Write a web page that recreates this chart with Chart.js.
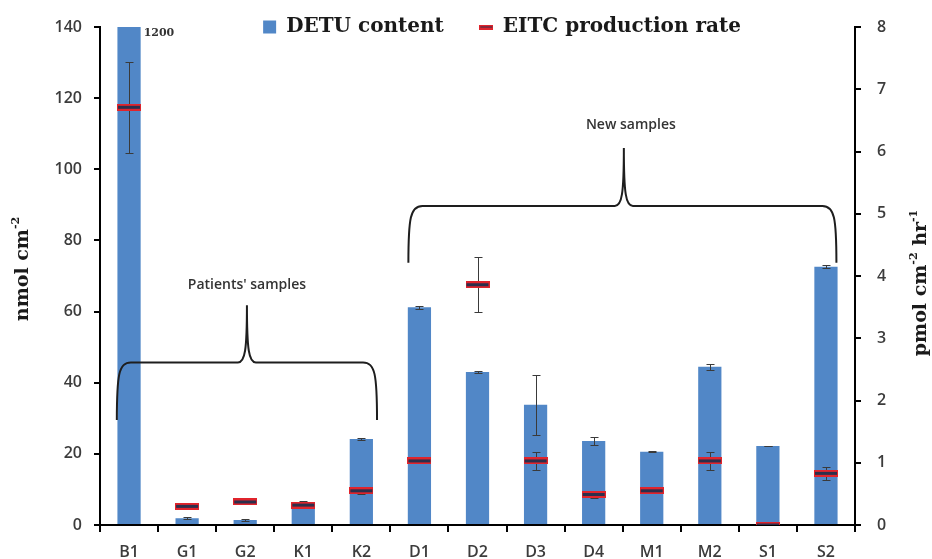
<!DOCTYPE html>
<html lang="en">
<head>
<meta charset="UTF-8" />
<title>DETU content and EITC production rate</title>
<style>
  html, body { margin: 0; padding: 0; background: #ffffff; }
  #wrap { width: 932px; height: 559px; }
</style>
</head>
<body>
<div id="wrap"><canvas id="chart" width="932" height="559"></canvas></div>

<script src="https://cdn.jsdelivr.net/npm/chart.js"></script>
<script>
  // samples along the x axis
  const samples = ['B1', 'G1', 'G2', 'K1', 'K2', 'D1', 'D2', 'D3', 'D4', 'M1', 'M2', 'S1', 'S2'];

  // DETU content, nmol cm-2 (B1 goes off the scale, printed as 1200)
  const detu    = [1200, 1.9, 1.4, 6.4, 24.2, 61.2, 43.0, 33.8, 23.6, 20.6, 44.5, 22.2, 72.6];
  const detuErr = [0, 0.3, 0.3, 0.3, 0.2, 0.5, 0.3, 8.4, 1.2, 0.2, 0.8, 0.1, 0.4];

  // EITC production rate, pmol cm-2 hr-1
  const eitc    = [6.71, 0.30, 0.37, 0.32, 0.55, 1.03, 3.86, 1.03, 0.49, 0.55, 1.03, 0.0, 0.83];
  const eitcErr = [0.73, 0.05, 0.02, 0.03, 0.06, 0.02, 0.44, 0.14, 0.05, 0.03, 0.15, 0.0, 0.10];

  // axis ticks
  const leftTicks  = [0, 20, 40, 60, 80, 100, 120, 140];
  const rightTicks = [0, 1, 2, 3, 4, 5, 6, 7, 8];

  const blue = '#5187c7';
  const ink = '#3c3c3c';
  const tickFont = { family: "'Open Sans', sans-serif", size: 16, weight: '600' };
  const legendPad = 36;

  // the red/dark dash used for the EITC markers
  function makeDash(w, h) {
    const c = document.createElement('canvas');
    c.width = w; c.height = h;
    const g = c.getContext('2d');
    g.fillStyle = '#e0242c';
    g.fillRect(0, 0, w, h);
    g.fillStyle = '#2c2f4c';
    g.fillRect(1, 2, w - 2, h - 4);
    return c;
  }
  const dash = makeDash(24, 7);
  const dashSmall = makeDash(14, 5);

  // text with raised parts, e.g. cm-2
  const serifBold = "bold 19px 'DejaVu Serif', serif";
  const serifSup = "bold 11px 'DejaVu Serif', serif";
  function drawRotatedTitle(ctx, parts, cx, cy) {
    ctx.save();
    ctx.translate(cx, cy);
    ctx.rotate(-Math.PI / 2);
    let total = 0;
    parts.forEach(p => { ctx.font = p[1] ? serifSup : serifBold; total += ctx.measureText(p[0]).width; });
    let x = -total / 2;
    ctx.fillStyle = '#1a1a1a';
    ctx.textBaseline = 'middle';
    ctx.textAlign = 'left';
    parts.forEach(p => {
      ctx.font = p[1] ? serifSup : serifBold;
      ctx.fillText(p[0], x, p[1] ? -7 : 0);
      x += ctx.measureText(p[0]).width;
    });
    ctx.restore();
  }

  // curly braces over the two sample groups (x in category index, y in nmol cm-2)
  const braces = [
    { label: "Patients' samples", x0: -0.21, x1: 4.27, xp: 2.03, yEnd: 29.5, yMid: 45.7, yPeak: 61.8, ty: 67.5, tx: 2.03 },
    { label: 'New samples', x0: 4.81, x1: 12.18, xp: 8.52, yEnd: 73.7, yMid: 89.7, yPeak: 106, ty: 112.5, tx: 8.64 }
  ];

  const extras = {
    id: 'extras',
    beforeInit(chart) {
      // the legend takes little room: it sits over the top of the plot, like the original
      const fit = chart.legend.fit;
      chart.legend.fit = function () { fit.call(this); this.height = 27; };
    },
    afterLayout(chart) {
      const lg = chart.legend;
      lg.left += 36;
      lg.right += 36;
      lg.top = 27 - legendPad - 10;
      lg.bottom = 50;
    },
    afterDatasetDraw(chart, args) {
      if (args.index !== 0) return;
      const { ctx, chartArea, scales } = chart;
      const bars = chart.getDatasetMeta(0).data;
      ctx.save();
      ctx.beginPath();
      ctx.rect(chartArea.left, chartArea.top, chartArea.right - chartArea.left, chartArea.bottom - chartArea.top);
      ctx.clip();
      ctx.strokeStyle = '#3a3a3a';
      ctx.lineWidth = 1;
      const errBar = (x, scale, v, e, half) => {
        if (!e) return;
        const t = Math.round(scale.getPixelForValue(v + e)) + 0.5;
        const b = Math.round(scale.getPixelForValue(v - e)) + 0.5;
        x = Math.round(x) + 0.5;
        ctx.beginPath();
        ctx.moveTo(x, t); ctx.lineTo(x, b);
        ctx.moveTo(x - half, t); ctx.lineTo(x + half, t);
        ctx.moveTo(x - half, b); ctx.lineTo(x + half, b);
        ctx.stroke();
      };
      bars.forEach((bar, i) => {
        errBar(bar.x, scales.y, detu[i], detuErr[i], 4);
        errBar(bar.x, scales.y1, eitc[i], eitcErr[i], 4);
      });
      ctx.restore();

      // value printed beside the clipped B1 bar
      ctx.save();
      ctx.font = "bold 11px 'DejaVu Serif', serif";
      ctx.fillStyle = '#333';
      ctx.textBaseline = 'middle';
      ctx.fillText(String(detu[0]), bars[0].x + bars[0].width / 2 + 3, chartArea.top + 6);
      ctx.restore();
    },
    afterDraw(chart) {
      const { ctx, scales } = chart;
      const x = scales.x, y = scales.y;
      const step = x.getPixelForValue(1) - x.getPixelForValue(0);
      const px = i => x.getPixelForValue(0) + i * step;

      ctx.save();
      ctx.strokeStyle = '#1e1e1e';
      ctx.lineWidth = 2;
      braces.forEach(b => {
        const xl = px(b.x0), xr = px(b.x1), xp = px(b.xp);
        const ye = y.getPixelForValue(b.yEnd), ym = y.getPixelForValue(b.yMid), yk = y.getPixelForValue(b.yPeak);
        ctx.beginPath();
        ctx.moveTo(xl, ye);
        ctx.bezierCurveTo(xl, ym + 12, xl + 2, ym, xl + 14, ym);
        ctx.lineTo(xp - 9, ym);
        ctx.bezierCurveTo(xp - 2, ym, xp, ym - 12, xp, yk);
        ctx.bezierCurveTo(xp, ym - 12, xp + 2, ym, xp + 9, ym);
        ctx.lineTo(xr - 14, ym);
        ctx.bezierCurveTo(xr - 2, ym, xr, ym + 12, xr, ye);
        ctx.stroke();

        ctx.font = "600 14px 'Open Sans', sans-serif";
        ctx.fillStyle = '#333';
        ctx.textAlign = 'center';
        ctx.textBaseline = 'middle';
        ctx.fillText(b.label, px(b.tx), y.getPixelForValue(b.ty));
      });
      ctx.restore();

      drawRotatedTitle(ctx, [['nmol cm', false], ['-2', true]], 23, 269);
      drawRotatedTitle(ctx, [['pmol cm', false], ['-2', true], [' hr', false], ['-1', true]], 921, 283);
    }
  };

  new Chart(document.getElementById('chart'), {
    data: {
      labels: samples,
      datasets: [
        {
          type: 'bar',
          label: 'DETU content',
          data: detu,
          yAxisID: 'y',
          backgroundColor: blue,
          borderWidth: 0,
          barPercentage: 0.4,
          categoryPercentage: 1,
          pointStyle: 'rect',
          order: 1
        },
        {
          type: 'line',
          label: 'EITC production rate',
          data: eitc,
          yAxisID: 'y1',
          showLine: false,
          pointStyle: dash,
          pointRadius: 6,
          order: 0
        }
      ]
    },
    options: {
      responsive: false,
      animation: false,
      events: [],
      layout: { padding: 0 },
      plugins: {
        tooltip: { enabled: false },
        legend: {
          position: 'top',
          labels: {
            usePointStyle: true,
            boxWidth: 13,
            boxHeight: 13,
            padding: legendPad,
            color: '#1a1a1a',
            font: { family: "'DejaVu Serif', serif", size: 20, weight: 'bold' },
            generateLabels(chart) {
              const items = Chart.defaults.plugins.legend.labels.generateLabels(chart);
              items.sort((a, b) => a.datasetIndex - b.datasetIndex);
              items.forEach(it => { if (it.datasetIndex === 1) it.pointStyle = dashSmall; });
              return items;
            }
          }
        }
      },
      scales: {
        x: {
          grid: { offset: true, drawOnChartArea: false, color: '#000', lineWidth: 2, tickLength: 7 },
          border: { color: '#000', width: 2 },
          ticks: { color: ink, font: tickFont, padding: 11 },
          afterFit(s) { s.height = 34; }
        },
        y: {
          position: 'left',
          min: 0,
          max: 140,
          grid: { drawOnChartArea: false, color: '#000', lineWidth: 2, tickLength: 6 },
          border: { color: '#000', width: 2 },
          ticks: { color: ink, font: tickFont, padding: 12 },
          afterBuildTicks(s) { s.ticks = leftTicks.map(v => ({ value: v })); },
          afterFit(s) { s.width = 100; }
        },
        y1: {
          position: 'right',
          min: 0,
          max: 8,
          grid: { drawOnChartArea: false, color: '#000', lineWidth: 2, tickLength: 6 },
          border: { color: '#000', width: 2 },
          ticks: { color: ink, font: tickFont, padding: 16 },
          afterBuildTicks(s) { s.ticks = rightTicks.map(v => ({ value: v })); },
          afterFit(s) { s.width = 77; }
        }
      }
    },
    plugins: [extras]
  });
</script>
</body>
</html>
